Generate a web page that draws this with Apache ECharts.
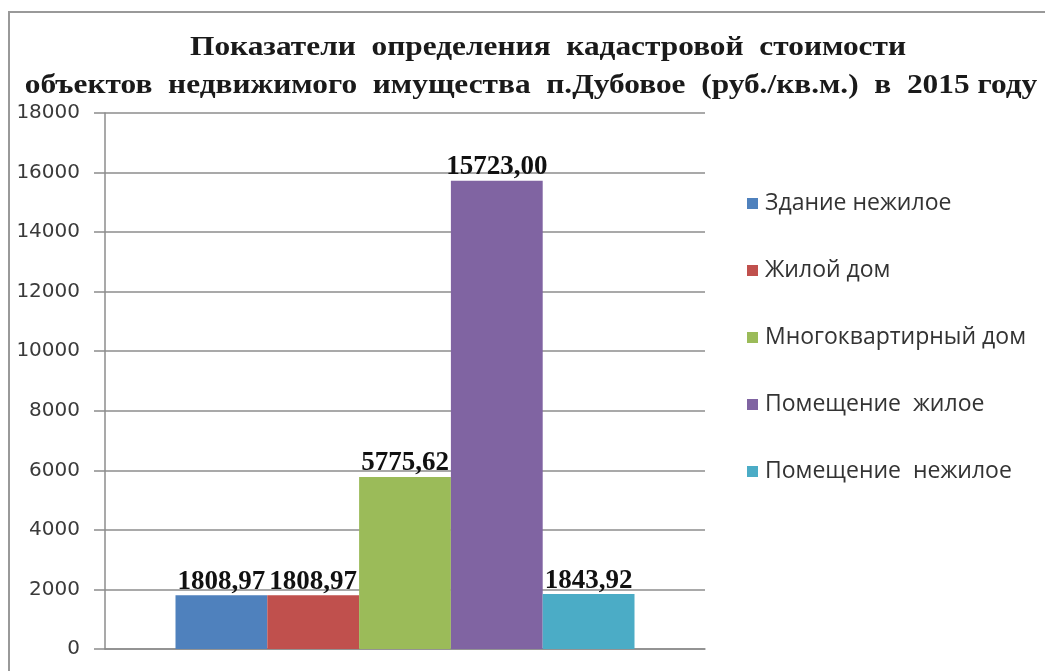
<!DOCTYPE html>
<html><head><meta charset="utf-8">
<script src="https://cdn.jsdelivr.net/npm/echarts@6/dist/echarts.min.js"></script>
<style>html,body{margin:0;padding:0;background:#fff}#c{width:1045px;height:671px}</style>
</head><body><div id="c"></div>
<script>
const titleLines = ['Показатели  определения  кадастровой  стоимости', 'объектов  недвижимого  имущества  п.Дубовое  (руб./кв.м.)  в  2015 году'];
const categories = [''];
const seriesNames = ['Здание нежилое', 'Жилой дом', 'Многоквартирный дом', 'Помещение  жилое', 'Помещение  нежилое'];
const seriesValues = [1808.97, 1808.97, 5775.62, 15723.00, 1843.92];
const colors = ['#4f81bd', '#c0504d', '#9bbb59', '#8064a2', '#4bacc6'];
const yTicks = {min: 0, max: 18000, interval: 2000};

const titleFont = 'bold 28px "Liberation Serif"';
const chart = echarts.init(document.getElementById('c'));
chart.setOption({
  animation: false,
  color: colors,
  graphic: [
    {type: 'rect', shape: {x: 9, y: 12, width: 1100, height: 700}, style: {fill: 'none', stroke: '#999', lineWidth: 2}, silent: true},
    {type: 'text', x: 548, y: 48, scaleX: 1.12, style: {text: titleLines[0], x: 0, y: 0, align: 'center', verticalAlign: 'middle', font: titleFont, fill: '#1a1a1a'}},
    {type: 'text', x: 531, y: 86, scaleX: 1.12, style: {text: titleLines[1], x: 0, y: 0, align: 'center', verticalAlign: 'middle', font: titleFont, fill: '#1a1a1a'}}
  ],
  legend: {
    orient: 'vertical', left: 742, top: 187, itemGap: 44,
    itemWidth: 11, itemHeight: 11, icon: 'rect', itemStyle: {},
    textStyle: {fontFamily: 'Open Sans', fontSize: 23, color: '#333', padding: [0,0,0,2]},
    data: seriesNames
  },
  grid: {left: 105, right: 340, top: 113, bottom: 22},
  xAxis: {
    type: 'category', data: categories,
    axisLine: {show: true, lineStyle: {color: '#8c8c8c', width: 1.5}},
    axisTick: {show: false}, axisLabel: {show: false}
  },
  yAxis: {
    type: 'value', min: yTicks.min, max: yTicks.max, interval: yTicks.interval,
    axisLine: {show: true, lineStyle: {color: '#8c8c8c', width: 1.5}},
    axisTick: {show: true, length: 11, lineStyle: {color: '#8c8c8c', width: 1.5}},
    axisLabel: {fontFamily: 'DejaVu Sans', fontSize: 20, color: '#3a3a3a', margin: 25, formatter: v => String(v)},
    splitLine: {lineStyle: {color: '#8c8c8c', width: 1.5}}
  },
  series: seriesNames.map((n, i) => ({
    name: n, type: 'bar',
    data: [seriesValues[i]],
    barGap: '0%', barCategoryGap: '23.5%',
    label: {
      show: true, position: 'top', distance: 0,
      fontFamily: 'Liberation Serif', fontWeight: 'bold', fontSize: 27, color: '#111',
      formatter: p => p.value.toFixed(2).replace('.', ',')
    }
  }))
});
</script></body></html>
